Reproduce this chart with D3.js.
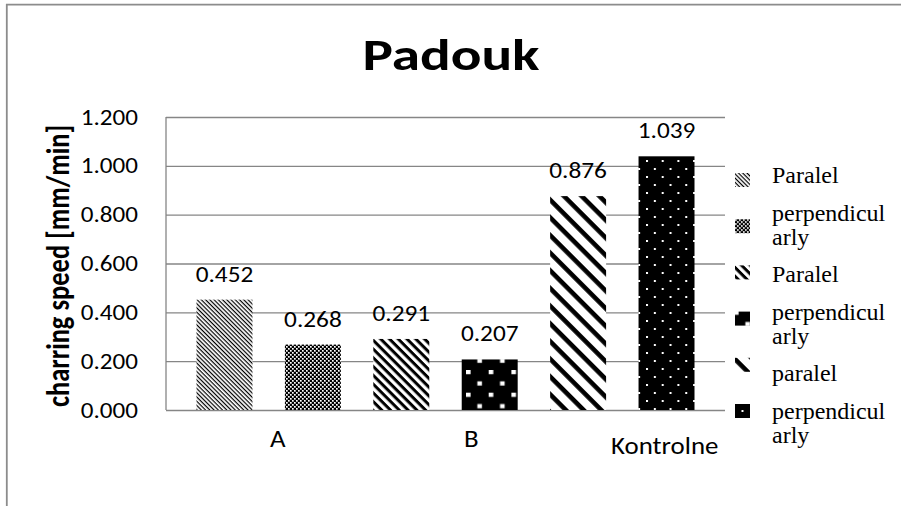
<!DOCTYPE html>
<html><head><meta charset="utf-8">
<script src="https://cdn.jsdelivr.net/npm/d3@7"></script>
<style>body{margin:0;background:#fff} svg{display:block}</style>
</head><body><div id="chart"></div>
<script>
// ---- data ----
const categories = ["A", "B", "Kontrolne"];
const seriesNames = ["Paralel", "perpendicularly", "Paralel", "perpendicularly", "paralel", "perpendicularly"];
const seriesCategory = ["A", "A", "B", "B", "Kontrolne", "Kontrolne"];
const values = [0.452, 0.268, 0.291, 0.207, 0.876, 1.039];
const yTickValues = [0, 0.2, 0.4, 0.6, 0.8, 1.0, 1.2];
const chartTitle = "Padouk";
const yAxisTitle = "charring speed [mm/min]";

// ---- layout ----
const W = 901, H = 506;
const sans = "Carlito, Lato, 'Open Sans', sans-serif";
const serif = "'Liberation Serif', 'Times New Roman', serif";
const grid = "#868686";

const svg = d3.select("#chart").append("svg").attr("width", W).attr("height", H);
svg.append("rect").attr("width", W).attr("height", H).attr("fill", "#fff");

const plot = {left: 166, right: 725, top: 117, bottom: 410};
const y = d3.scaleLinear().domain([0, 1.2]).range([plot.bottom, plot.top]);
const x = d3.scaleBand().domain(d3.range(values.length))
  .range([plot.left, plot.right]).paddingInner(0.367).paddingOuter(0.345);
const xc = d3.scaleBand().domain(categories).range([181, 761.5]);

// ---- patterns ----
const defs = svg.append("defs");
function pat(id, w, h, ox, oy, tf) {
  const p = defs.append("pattern").attr("id", id).attr("patternUnits", "userSpaceOnUse")
    .attr("width", w).attr("height", h).attr("x", ox).attr("y", oy);
  if (tf) p.attr("patternTransform", tf);
  return p;
}
function stripes(id, period, thick, angle, ox, oy) {
  const p = pat(id, period, period, 0, 0, `translate(${ox},${oy}) rotate(${angle})`);
  p.append("rect").attr("width", period).attr("height", period).attr("fill", "#fff");
  p.append("rect").attr("width", period).attr("height", thick).attr("fill", "#000");
}
function checker(id, ox, oy) {
  const p = pat(id, 4, 4, ox, oy);
  p.append("rect").attr("width", 4).attr("height", 4).attr("fill", "#000");
  p.append("rect").attr("x", 0).attr("y", 0).attr("width", 1.7).attr("height", 1.7).attr("fill", "#fff");
  p.append("rect").attr("x", 2).attr("y", 2).attr("width", 1.7).attr("height", 1.7).attr("fill", "#fff");
}
function squares(id, ox, oy) {
  const s = 22.7;
  const p = pat(id, s, s, ox, oy);
  p.append("rect").attr("width", s).attr("height", s).attr("fill", "#000");
  p.append("rect").attr("x", 0).attr("y", 0).attr("width", 4.6).attr("height", 4.2).attr("fill", "#fff");
  p.append("rect").attr("x", s / 2).attr("y", s / 2).attr("width", 4.6).attr("height", 4.2).attr("fill", "#fff");
}
function dots(id, ox, oy) {
  const w = 15.7, h = 16;
  const p = pat(id, w, h, ox, oy);
  p.append("rect").attr("width", w).attr("height", h).attr("fill", "#000");
  p.append("rect").attr("x", 0).attr("y", 0).attr("width", 2).attr("height", 2).attr("fill", "#fff");
  p.append("rect").attr("x", w / 2).attr("y", h / 2).attr("width", 2).attr("height", 2).attr("fill", "#fff");
}
const makers = [
  (id, ox, oy) => stripes(id, 3.0, 1.2, 45, ox, oy),
  (id, ox, oy) => checker(id, ox, oy),
  (id, ox, oy) => stripes(id, 6.2, 3.0, 45, ox, oy),
  (id, ox, oy) => squares(id, ox, oy),
  (id, ox, oy) => stripes(id, 12.5, 4.6, 45, ox, oy),
  (id, ox, oy) => dots(id, ox, oy)
];
const barOffsets = [[0, 0], [0, 0], [0, 0], [466, 370], [0, 0], [646, 160]];
const legOffsets = [[0, 0], [0, 0], [0, 0], [-1, -1], [2, 0], [6.5, 6]];
makers.forEach((m, i) => {
  m("bar" + i, barOffsets[i][0], barOffsets[i][1]);
  m("leg" + i, legOffsets[i][0], legOffsets[i][1]);
});

// helper: horizontally stretched text
function stext(parent, px, py, sx, str) {
  return parent.append("text")
    .attr("transform", `translate(${px},${py}) scale(${sx},1)`)
    .attr("fill", "#000").text(str);
}

// ---- outer border ----
svg.append("path").attr("d", `M6.8,${H} L6.8,4.6 L${W},4.6`)
  .attr("fill", "none").attr("stroke", "#8c8c8c").attr("stroke-width", 1.8);

// ---- gridlines & y axis ----
const yAxis = d3.axisLeft(y).tickValues(yTickValues).tickFormat(d3.format(".3f"))
  .tickSize(-(plot.right - plot.left)).tickPadding(28);
const ga = svg.append("g").attr("transform", `translate(${plot.left},0)`).call(yAxis);
ga.select(".domain").remove();
ga.selectAll(".tick line").attr("stroke", grid).attr("stroke-width", 1.3);
ga.selectAll(".tick text").attr("x", 0).attr("transform", "translate(-28,0) scale(1.14,1)")
  .attr("font-family", sans).attr("font-size", 22).attr("fill", "#000");
svg.append("line").attr("x1", plot.left).attr("x2", plot.left).attr("y1", plot.top).attr("y2", plot.bottom)
  .attr("stroke", grid).attr("stroke-width", 1.3);

// ---- bars ----
svg.append("g").selectAll("rect").data(values).join("rect")
  .attr("x", (d, i) => x(i)).attr("width", x.bandwidth())
  .attr("y", d => y(d)).attr("height", d => y(0) - y(d))
  .attr("fill", (d, i) => `url(#bar${i})`);

// ---- data labels ----
const gl = svg.append("g").attr("font-family", sans).attr("font-size", 23).attr("text-anchor", "middle");
values.forEach((v, i) => stext(gl, x(i) + x.bandwidth() / 2, y(v) - 18, 1.1, d3.format(".3f")(v)));

// ---- category labels ----
const gc = svg.append("g").attr("font-family", sans).attr("font-size", 24).attr("text-anchor", "middle");
categories.forEach((c, i) => stext(gc, xc(c) + xc.bandwidth() / 2, i === 2 ? 454 : 447, 1.12, c));

// ---- title ----
stext(svg, 451, 70, 1.3, chartTitle).attr("text-anchor", "middle")
  .attr("font-family", sans).attr("font-weight", "bold").attr("font-size", 44);

// ---- y axis title ----
svg.append("text").attr("transform", "translate(69,266) scale(1.2,1) rotate(-90)")
  .attr("text-anchor", "middle").attr("font-family", sans).attr("font-weight", "bold")
  .attr("font-size", 26.5).attr("fill", "#000").text(yAxisTitle);

// ---- legend ----
function wrap(s, n) { const out = []; for (let i = 0; i < s.length; i += n) out.push(s.slice(i, i + n)); return out; }
const leg = svg.append("g");
seriesNames.forEach((name, i) => {
  const ym = 180 + i * 46.2;
  const g = leg.append("g").attr("transform", `translate(735,${ym - 7})`);
  g.append("rect").attr("width", 15).attr("height", 14).attr("fill", `url(#leg${i})`);
  const lines = wrap(name, 11);
  const yc = 175 + i * 49.6;
  const t = leg.append("text").attr("font-family", serif).attr("font-size", 24).attr("fill", "#000");
  lines.forEach((ln, j) => {
    t.append("tspan").attr("x", 772).attr("y", yc + 8 + (j - (lines.length - 1) / 2) * 24).text(ln);
  });
});
</script></body></html>
